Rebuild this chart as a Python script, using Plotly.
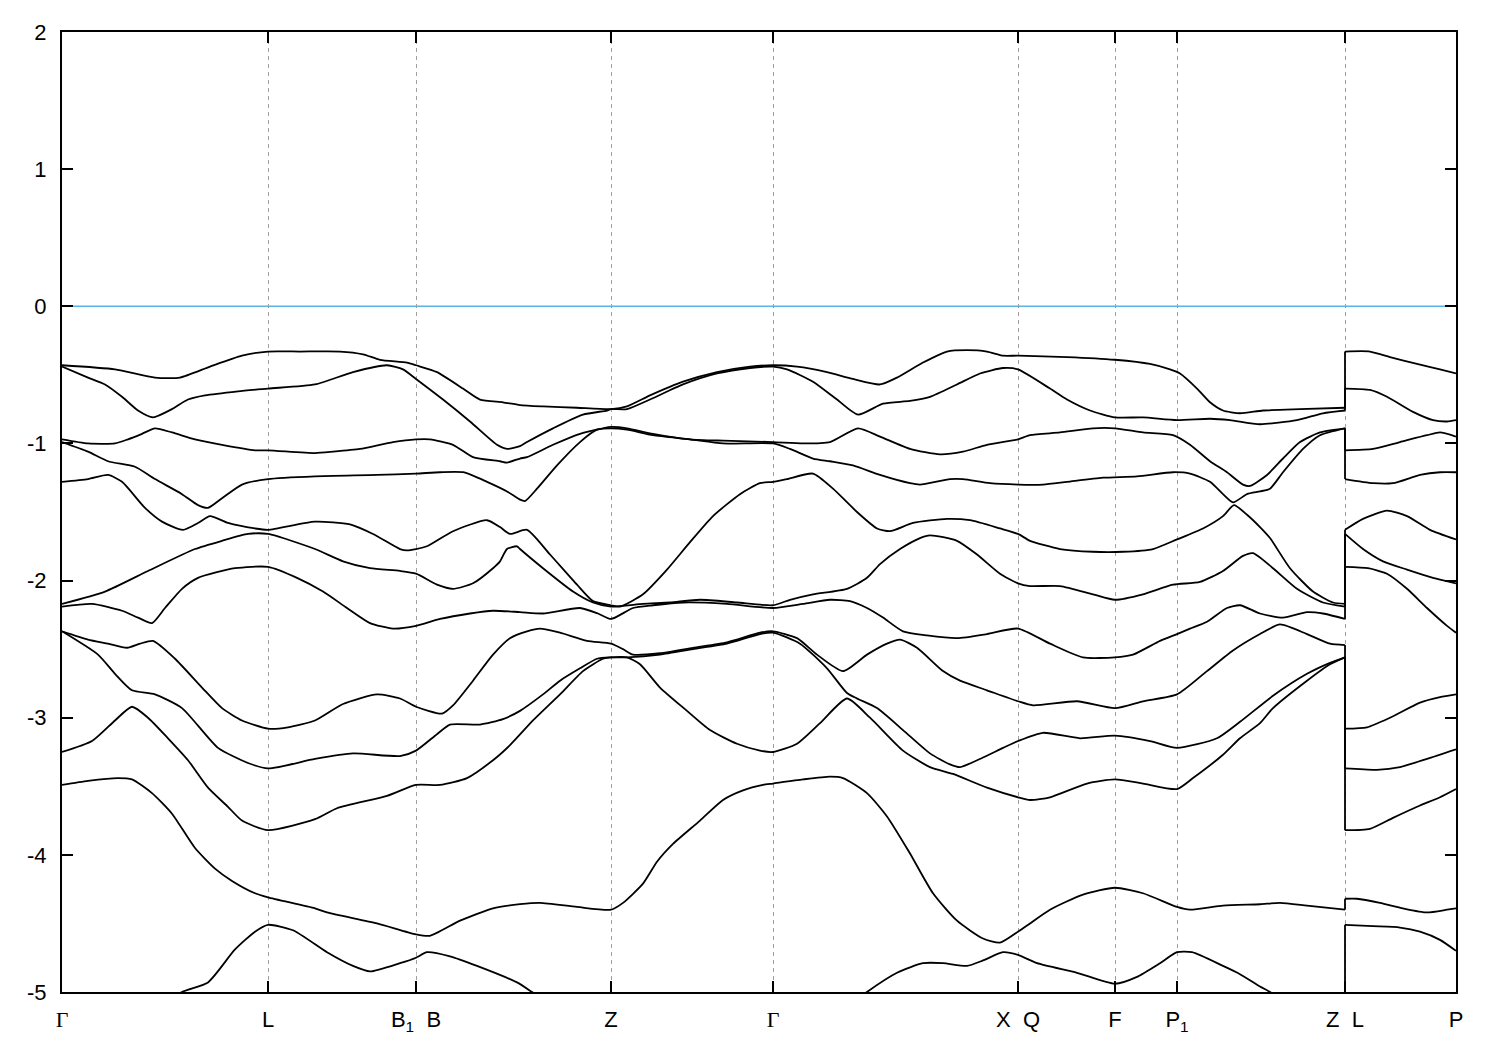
import plotly.graph_objects as go

# High-symmetry points along the k-path (path coordinate) and their labels
kpts = [0.00, 2.06, 3.54, 5.49, 7.11, 9.56, 10.53, 11.15, 12.83, 13.94]
SERIF_G = '<span style="font-family:Liberation Serif, Times New Roman, serif">Γ</span>'
klabels = [SERIF_G, "L", "B<sub>1</sub>\u00a0\u00a0B", "Z", SERIF_G, "X\u00a0\u00a0Q", "F",
           "P<sub>1</sub>", "Z\u00a0\u00a0L", "P"]
ytick_vals = [-5, -4, -3, -2, -1, 0, 1, 2]
ytick_text = ["-5", "-4", "-3", "-2", "-1", "0", "1", "2"]
k_break = 12.83  # Z | L discontinuity

# Bands (k, E in eV), left part: Gamma ... Z ; right part: L ... P
band_A = [(0.00,-0.43),(0.53,-0.46),(0.93,-0.52),(1.18,-0.52),(1.48,-0.44),(1.80,-0.36),(2.06,-0.33),
          (2.38,-0.33),(2.78,-0.33),(3.01,-0.35),(3.18,-0.39),(3.45,-0.41),(3.54,-0.43),(3.75,-0.48),
          (4.01,-0.60),(4.18,-0.68),(4.41,-0.70),(4.58,-0.72),(4.81,-0.73),(5.15,-0.74),(5.49,-0.75),
          (5.65,-0.73),(5.88,-0.65),(6.21,-0.55),(6.55,-0.48),(6.88,-0.44),(7.11,-0.43),(7.35,-0.44),
          (7.65,-0.48),(7.91,-0.53),(8.18,-0.57),(8.35,-0.52),(8.61,-0.41),(8.85,-0.33),(9.05,-0.32),
          (9.25,-0.33),(9.41,-0.36),(9.56,-0.36),(10.05,-0.37),(10.53,-0.39),(10.88,-0.42),(11.08,-0.46),
          (11.18,-0.49),(11.35,-0.60),(11.48,-0.70),(11.61,-0.76),(11.78,-0.78),(12.01,-0.76),
          (12.38,-0.75),(12.83,-0.74)]
band_A_r = [(12.83,-0.33),(13.08,-0.33),(13.28,-0.37),(13.55,-0.42),(13.78,-0.46),(13.94,-0.49)]

band_B = [(0.00,-0.44),(0.26,-0.52),(0.43,-0.57),(0.60,-0.66),(0.76,-0.76),(0.91,-0.81),(1.10,-0.75),
          (1.26,-0.68),(1.43,-0.65),(1.76,-0.62),(2.06,-0.60),(2.53,-0.57),(2.91,-0.48),(3.25,-0.43),
          (3.41,-0.46),(3.54,-0.53),(3.81,-0.68),(4.08,-0.84),(4.35,-1.01),(4.45,-1.04),(4.58,-1.02),
          (4.65,-0.99),(4.91,-0.89),(5.21,-0.79),(5.45,-0.76),(5.49,-0.75),(5.65,-0.75),(5.88,-0.68),
          (6.21,-0.57),(6.55,-0.49),(6.88,-0.45),(7.11,-0.44),(7.25,-0.46),(7.51,-0.55),(7.75,-0.68),
          (7.96,-0.79),(8.21,-0.71),(8.48,-0.69),(8.68,-0.66),(8.95,-0.57),(9.18,-0.49),(9.41,-0.45),
          (9.56,-0.46),(9.88,-0.60),(10.05,-0.68),(10.28,-0.76),(10.53,-0.81),(10.81,-0.81),
          (11.15,-0.83),(11.48,-0.82),(11.68,-0.83),(11.98,-0.86),(12.35,-0.83),(12.61,-0.78),
          (12.83,-0.76)]
band_B_r = [(12.83,-0.60),(13.08,-0.61),(13.25,-0.66),(13.51,-0.77),(13.71,-0.83),(13.85,-0.84),
            (13.94,-0.83)]

band_C = [(0.00,-0.97),(0.26,-1.00),(0.53,-1.00),(0.66,-0.97),(0.80,-0.93),(0.93,-0.89),(1.10,-0.92),
          (1.33,-0.97),(1.60,-1.01),(1.93,-1.05),(2.06,-1.05),(2.53,-1.07),(2.71,-1.06),(2.98,-1.04),
          (3.31,-0.99),(3.54,-0.97),(3.68,-0.97),(3.91,-1.01),(4.11,-1.10),(4.38,-1.13),(4.45,-1.14),
          (4.58,-1.11),(4.65,-1.10),(4.91,-1.01),(5.18,-0.93),(5.41,-0.89),(5.49,-0.88),(5.65,-0.89),
          (5.91,-0.93),(6.28,-0.97),(6.61,-0.98),(7.11,-0.99),(7.41,-1.00),(7.68,-0.99),(7.96,-0.89),
          (8.18,-0.95),(8.48,-1.04),(8.78,-1.08),(9.01,-1.06),(9.25,-1.01),(9.56,-0.97),(9.68,-0.94),
          (9.98,-0.92),(10.31,-0.89),(10.53,-0.89),(10.81,-0.92),(11.11,-0.94),(11.28,-1.01),
          (11.48,-1.13),(11.65,-1.21),(11.81,-1.30),(11.88,-1.31),(12.05,-1.23),(12.21,-1.11),
          (12.38,-0.99),(12.58,-0.92),(12.83,-0.89)]
band_C_r = [(12.83,-1.05),(13.11,-1.04),(13.38,-0.99),(13.65,-0.94),(13.78,-0.92),(13.94,-0.95)]

band_D = [(0.00,-0.99),(0.26,-1.06),(0.46,-1.13),(0.73,-1.17),(0.93,-1.26),(1.20,-1.37),(1.36,-1.45),
          (1.46,-1.47),(1.60,-1.40),(1.80,-1.30),(2.06,-1.26),(2.53,-1.24),(3.15,-1.23),(3.54,-1.22),
          (3.78,-1.21),(4.01,-1.21),(4.25,-1.28),(4.45,-1.35),(4.58,-1.41),(4.63,-1.42),(4.75,-1.33),
          (4.95,-1.16),(5.18,-0.99),(5.35,-0.90),(5.49,-0.89),(5.65,-0.90),(5.91,-0.94),(6.28,-0.97),
          (6.61,-1.00),(7.11,-1.00),(7.28,-1.04),(7.51,-1.11),(7.68,-1.13),(7.91,-1.16),(8.18,-1.23),
          (8.48,-1.29),(8.58,-1.30),(8.88,-1.26),(9.01,-1.26),(9.28,-1.29),(9.56,-1.30),(9.81,-1.30),
          (10.05,-1.28),(10.41,-1.25),(10.75,-1.24),(11.11,-1.21),(11.28,-1.22),(11.48,-1.28),
          (11.61,-1.37),(11.71,-1.43),(11.85,-1.37),(11.98,-1.35),(12.08,-1.33),(12.21,-1.21),
          (12.41,-1.04),(12.58,-0.94),(12.83,-0.89)]
band_D_r = [(12.83,-1.26),(13.11,-1.29),(13.31,-1.29),(13.58,-1.23),(13.78,-1.21),(13.94,-1.21)]

band_E = [(0.00,-1.28),(0.26,-1.26),(0.46,-1.23),(0.60,-1.28),(0.83,-1.47),(1.00,-1.57),(1.21,-1.63),
          (1.36,-1.58),(1.48,-1.53),(1.66,-1.58),(1.93,-1.62),(2.06,-1.63),(2.53,-1.57),(2.88,-1.59),
          (3.11,-1.66),(3.38,-1.77),(3.45,-1.78),(3.54,-1.77),(3.65,-1.75),(3.91,-1.64),(4.25,-1.56),
          (4.38,-1.61),(4.48,-1.66),(4.65,-1.63),(4.88,-1.81),(5.15,-2.03),(5.31,-2.15),(5.49,-2.18),
          (5.58,-2.19),(5.81,-2.10),(6.05,-1.92),(6.28,-1.72),(6.51,-1.53),(6.78,-1.37),(6.98,-1.29),
          (7.11,-1.28),(7.25,-1.26),(7.51,-1.22),(7.71,-1.33),(7.95,-1.50),(8.15,-1.62),(8.28,-1.64),
          (8.51,-1.58),(8.85,-1.55),(9.08,-1.56),(9.38,-1.62),(9.56,-1.66),(9.68,-1.71),(9.98,-1.77),
          (10.31,-1.79),(10.61,-1.79),(10.91,-1.77),(11.15,-1.70),(11.41,-1.62),(11.61,-1.53),
          (11.72,-1.45),(11.85,-1.52),(11.98,-1.61),(12.08,-1.69),(12.28,-1.91),(12.51,-2.08),
          (12.71,-2.16),(12.83,-2.17)]
band_E_r = [(12.83,-1.63),(13.01,-1.55),(13.25,-1.49),(13.45,-1.53),(13.68,-1.63),(13.94,-1.70)]

band_F = [(0.00,-2.17),(0.43,-2.08),(0.86,-1.93),(1.33,-1.77),(1.60,-1.71),(1.86,-1.66),(2.06,-1.66),
          (2.53,-1.77),(2.81,-1.86),(3.08,-1.91),(3.38,-1.93),(3.54,-1.95),(3.75,-2.03),(3.91,-2.06),
          (4.11,-2.02),(4.31,-1.91),(4.38,-1.86),(4.45,-1.77),(4.55,-1.75),(4.58,-1.77),(4.81,-1.91),
          (5.11,-2.08),(5.31,-2.16),(5.49,-2.19),(5.81,-2.17),(6.08,-2.16),(6.38,-2.14),(6.75,-2.16),
          (7.11,-2.18),(7.28,-2.14),(7.51,-2.10),(7.85,-2.06),(8.05,-1.98),(8.18,-1.88),(8.38,-1.77),
          (8.58,-1.69),(8.68,-1.67),(8.95,-1.71),(9.15,-1.81),(9.38,-1.95),(9.56,-2.02),(9.68,-2.04),
          (9.98,-2.04),(10.31,-2.10),(10.53,-2.14),(10.81,-2.10),(11.11,-2.03),(11.38,-2.01),
          (11.61,-1.93),(11.81,-1.82),(11.91,-1.80),(12.11,-1.91),(12.35,-2.06),(12.61,-2.16),
          (12.83,-2.19)]
band_F_r = [(12.83,-1.66),(13.01,-1.77),(13.21,-1.86),(13.45,-1.92),(13.71,-1.98),(13.94,-2.02)]

band_G = [(0.00,-2.19),(0.30,-2.17),(0.60,-2.22),(0.76,-2.27),(0.90,-2.31),(1.03,-2.20),(1.20,-2.06),
          (1.36,-1.98),(1.73,-1.91),(2.06,-1.90),(2.35,-1.98),(2.61,-2.08),(2.85,-2.20),(3.08,-2.31),
          (3.31,-2.35),(3.54,-2.33),(3.78,-2.28),(4.08,-2.24),(4.31,-2.22),(4.58,-2.23),(4.81,-2.24),
          (5.18,-2.20),(5.36,-2.24),(5.49,-2.28),(5.71,-2.20),(5.91,-2.18),(6.21,-2.16),(6.65,-2.17),
          (7.11,-2.20),(7.41,-2.17),(7.68,-2.14),(7.88,-2.15),(8.05,-2.20),(8.21,-2.27),(8.41,-2.37),
          (8.65,-2.40),(8.95,-2.42),(9.25,-2.39),(9.56,-2.35),(9.88,-2.46),(10.21,-2.56),(10.53,-2.56),
          (10.71,-2.54),(10.98,-2.44),(11.15,-2.39),(11.28,-2.35),(11.45,-2.30),(11.65,-2.20),
          (11.78,-2.18),(11.98,-2.24),(12.21,-2.27),(12.45,-2.23),(12.61,-2.24),(12.83,-2.28)]
band_G_r = [(12.83,-1.90),(13.06,-1.91),(13.25,-1.95),(13.45,-2.06),(13.65,-2.20),(13.85,-2.33),
            (13.94,-2.38)]

band_H = [(0.00,-2.37),(0.26,-2.43),(0.46,-2.46),(0.65,-2.49),(0.78,-2.46),(0.91,-2.44),(1.13,-2.57),
          (1.40,-2.78),(1.60,-2.93),(1.80,-3.02),(2.06,-3.08),(2.26,-3.07),(2.53,-3.02),(2.81,-2.90),
          (3.15,-2.83),(3.38,-2.86),(3.54,-2.92),(3.80,-2.97),(3.91,-2.91),(4.11,-2.73),(4.31,-2.54),
          (4.48,-2.42),(4.65,-2.37),(4.78,-2.35),(4.98,-2.38),(5.25,-2.44),(5.49,-2.46),(5.61,-2.50),
          (5.71,-2.54),(5.98,-2.53),(6.31,-2.49),(6.65,-2.45),(6.98,-2.38),(7.11,-2.37),(7.35,-2.42),
          (7.55,-2.54),(7.81,-2.66),(8.05,-2.54),(8.25,-2.46),(8.38,-2.43),(8.55,-2.49),(8.81,-2.66),
          (8.98,-2.73),(9.25,-2.80),(9.56,-2.88),(9.71,-2.91),(10.15,-2.88),(10.53,-2.93),(10.81,-2.88),
          (11.15,-2.83),(11.45,-2.66),(11.71,-2.51),(11.98,-2.39),(12.18,-2.32),(12.45,-2.39),
          (12.68,-2.46),(12.83,-2.47)]
band_H_r = [(12.83,-3.08),(13.05,-3.07),(13.28,-3.00),(13.58,-2.89),(13.78,-2.85),(13.94,-2.83)]

band_I = [(0.00,-2.37),(0.36,-2.54),(0.53,-2.68),(0.70,-2.80),(0.93,-2.83),(1.20,-2.93),(1.56,-3.22),
          (1.86,-3.33),(2.06,-3.37),(2.53,-3.30),(2.91,-3.26),(3.38,-3.28),(3.54,-3.24),(3.75,-3.12),
          (3.88,-3.05),(4.18,-3.05),(4.41,-3.01),(4.58,-2.95),(4.81,-2.83),(4.98,-2.73),(5.18,-2.64),
          (5.35,-2.57),(5.49,-2.56),(5.65,-2.56),(5.98,-2.54),(6.31,-2.50),(6.65,-2.46),(6.98,-2.39),
          (7.11,-2.38),(7.38,-2.46),(7.65,-2.64),(7.85,-2.82),(7.95,-2.86),(8.15,-2.93),(8.41,-3.09),
          (8.68,-3.26),(8.88,-3.34),(8.98,-3.36),(9.21,-3.29),(9.41,-3.22),(9.56,-3.17),(9.81,-3.11),
          (10.18,-3.15),(10.53,-3.13),(10.88,-3.17),(11.15,-3.22),(11.55,-3.15),(11.78,-3.03),
          (12.11,-2.84),(12.45,-2.68),(12.68,-2.60),(12.83,-2.56)]
band_I_r = [(12.83,-3.37),(13.15,-3.38),(13.38,-3.36),(13.65,-3.30),(13.94,-3.23)]

band_J = [(0.00,-3.25),(0.30,-3.17),(0.53,-3.02),(0.70,-2.92),(0.86,-3.00),(1.06,-3.15),(1.26,-3.31),
          (1.46,-3.51),(1.66,-3.65),(1.80,-3.75),(2.06,-3.82),(2.53,-3.74),(2.75,-3.66),(3.25,-3.57),
          (3.54,-3.49),(3.78,-3.49),(4.05,-3.44),(4.31,-3.31),(4.48,-3.20),(4.71,-3.02),(4.98,-2.83),
          (5.21,-2.66),(5.41,-2.57),(5.49,-2.56),(5.65,-2.56),(5.78,-2.61),(5.98,-2.78),(6.25,-2.95),
          (6.48,-3.09),(6.75,-3.19),(6.98,-3.24),(7.11,-3.25),(7.35,-3.19),(7.58,-3.04),(7.85,-2.86),
          (8.08,-3.00),(8.41,-3.24),(8.68,-3.36),(8.91,-3.41),(9.25,-3.51),(9.56,-3.58),(9.68,-3.60),
          (9.88,-3.58),(10.25,-3.48),(10.53,-3.45),(10.81,-3.48),(11.15,-3.52),(11.31,-3.44),
          (11.61,-3.27),(11.78,-3.15),(11.98,-3.04),(12.11,-2.93),(12.45,-2.73),(12.68,-2.61),
          (12.83,-2.56)]
band_J_r = [(12.83,-3.82),(13.08,-3.81),(13.31,-3.73),(13.58,-3.64),(13.78,-3.58),(13.94,-3.52)]

band_K = [(0.00,-3.49),(0.26,-3.46),(0.56,-3.44),(0.70,-3.45),(0.90,-3.55),(1.10,-3.70),(1.33,-3.95),
          (1.53,-4.10),(1.70,-4.19),(1.93,-4.28),(2.06,-4.31),(2.53,-4.39),(2.65,-4.42),(3.15,-4.50),
          (3.54,-4.58),(3.68,-4.59),(3.98,-4.48),(4.31,-4.39),(4.58,-4.36),(4.78,-4.35),(5.15,-4.38),
          (5.49,-4.40),(5.61,-4.35),(5.81,-4.21),(5.95,-4.05),(6.11,-3.92),(6.38,-3.75),(6.61,-3.60),
          (6.81,-3.53),(7.01,-3.49),(7.11,-3.48),(7.41,-3.45),(7.68,-3.43),(7.81,-3.44),(8.05,-3.55),
          (8.25,-3.72),(8.48,-3.99),(8.71,-4.28),(8.95,-4.48),(9.21,-4.61),(9.38,-4.64),(9.56,-4.56),
          (9.68,-4.50),(9.88,-4.40),(10.21,-4.29),(10.53,-4.24),(10.81,-4.28),(11.15,-4.38),
          (11.28,-4.40),(11.61,-4.37),(11.98,-4.36),(12.18,-4.35),(12.45,-4.37),(12.83,-4.40)]
band_K_r = [(12.83,-4.32),(12.95,-4.32),(13.18,-4.35),(13.41,-4.39),(13.65,-4.42),(13.85,-4.40),
            (13.94,-4.39)]

band_L = [(0.00,-5.45),(0.60,-5.35),(1.00,-5.12),(1.20,-5.00),(1.46,-4.93),(1.73,-4.69),(1.93,-4.56),
          (2.06,-4.51),(2.31,-4.55),(2.65,-4.71),(2.91,-4.81),(3.08,-4.85),(3.38,-4.79),(3.54,-4.75),
          (3.65,-4.71),(3.88,-4.74),(4.15,-4.81),(4.55,-4.93),(4.70,-5.00),(5.00,-5.15),(5.49,-5.35),
          (6.30,-5.50),(7.11,-5.45),(7.70,-5.20),(8.05,-5.00),(8.35,-4.86),(8.61,-4.79),(8.81,-4.79),
          (9.05,-4.81),(9.21,-4.77),(9.41,-4.71),(9.56,-4.73),(9.75,-4.79),(10.15,-4.86),(10.53,-4.94),
          (10.75,-4.89),(10.98,-4.79),(11.15,-4.71),(11.30,-4.71),(11.61,-4.81),(11.78,-4.87),
          (11.98,-4.96),(12.08,-5.00),(12.50,-5.20),(12.83,-5.30)]
band_L_r = [(12.83,-4.51),(13.11,-4.52),(13.38,-4.53),(13.58,-4.56),(13.78,-4.62),(13.94,-4.70)]

bands = [(band_A, band_A_r), (band_B, band_B_r), (band_C, band_C_r), (band_D, band_D_r),
         (band_E, band_E_r), (band_F, band_F_r), (band_G, band_G_r), (band_H, band_H_r),
         (band_I, band_I_r), (band_J, band_J_r), (band_K, band_K_r), (band_L, band_L_r)]

LINE = dict(color="black", width=1.8)
fig = go.Figure()

for left, right in bands:
    for seg in (left, right):
        fig.add_trace(go.Scatter(x=[p[0] for p in seg], y=[p[1] for p in seg], mode="lines",
                                 line=dict(LINE, shape="spline", smoothing=0.6),
                                 hoverinfo="skip", showlegend=False))
    # vertical jump at the Z|L discontinuity
    fig.add_trace(go.Scatter(x=[k_break, k_break], y=[left[-1][1], right[0][1]], mode="lines",
                             line=LINE, hoverinfo="skip", showlegend=False))

# Fermi level
fig.add_shape(type="line", xref="paper", x0=0, x1=1, yref="y", y0=0, y1=0,
              line=dict(color="#56B4E9", width=1.5), layer="below")

FONT = dict(family="Liberation Sans, Arial, sans-serif", size=22, color="black")
fig.update_layout(
    width=1500, height=1050,
    margin=dict(l=54, r=52, t=21, b=66),
    paper_bgcolor="white", plot_bgcolor="white",
    font=FONT, showlegend=False,
    xaxis=dict(range=[kpts[0], kpts[-1]], tickmode="array", tickvals=kpts, ticktext=klabels,
               ticks="inside", ticklen=11, tickwidth=1.5, tickcolor="black",
               showgrid=True, gridcolor="#a0a0a0", gridwidth=1, griddash="4px,4px",
               showline=True, linecolor="black", linewidth=2, mirror="ticks",
               zeroline=False, ticklabelstandoff=7, tickfont=FONT),
    yaxis=dict(range=[-5, 2], tickmode="array", tickvals=ytick_vals, ticktext=ytick_text,
               ticks="inside", ticklen=11, tickwidth=1.5, tickcolor="black",
               showgrid=False, showline=True, linecolor="black", linewidth=2, mirror="ticks",
               zeroline=False, ticklabelstandoff=9, tickfont=FONT),
)

fig.write_html("out.html")
